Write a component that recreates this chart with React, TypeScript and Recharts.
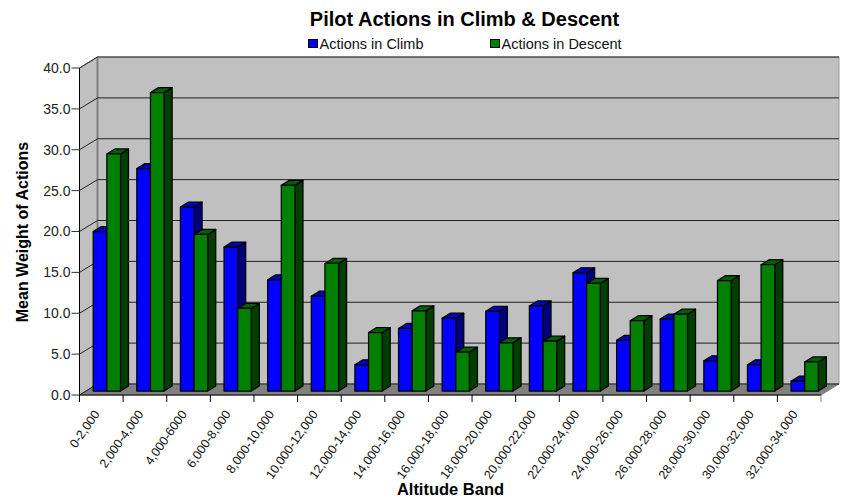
import { Bar, BarChart, CartesianGrid, Legend, XAxis, YAxis } from "recharts";

const altitudeBands = [
  "0-2,000", "2,000-4,000", "4,000-6000", "6,000-8,000", "8,000-10,000", "10,000-12,000",
  "12,000-14,000", "14,000-16,000", "16,000-18,000", "18,000-20,000", "20,000-22,000",
  "22,000-24,000", "24,000-26,000", "26,000-28,000", "28,000-30,000", "30,000-32,000", "32,000-34,000",
];
const climbActions = [19.5, 27.2, 22.5, 17.6, 13.6, 11.6, 3.2, 7.65, 8.9, 9.75, 10.4, 14.45, 6.2, 8.8, 3.7, 3.2, 1.2];
const descentActions = [29.0, 36.5, 19.15, 10.1, 25.15, 15.6, 7.15, 9.8, 4.75, 5.9, 6.1, 13.15, 8.6, 9.4, 13.5, 15.45, 3.55];
const weightTicks = [0, 5, 10, 15, 20, 25, 30, 35, 40];

const chartData = altitudeBands.map((band, i) => ({
  band,
  climb: climbActions[i],
  descent: descentActions[i],
}));

const FONT = '"Liberation Sans", Arial, sans-serif';

// plot rectangle of the front face, in svg coordinates
const LEFT = 79.5;
const RIGHT = 821;
const TOP = 68;
const BOTTOM = 395;
const BAND = (RIGHT - LEFT) / altitudeBands.length;

// how far the back wall sits behind the front plane
const WALL_DX = 18;
const WALL_DY = -11;
// bars stand part way back on the floor, and have their own depth
const BAR_DX = 5.7;
const BAR_DY = -4;
const SIDE_DX = 8;
const SIDE_DY = -5;

const BLUE = { face: "#0000ff", top: "#0000c0", side: "#00007f" };
const GREEN = { face: "#007f00", top: "#006000", side: "#003f00" };

// walls and floor sit in their own svg under the chart so the grid lands on top of them
function Walls() {
  const backLeft = LEFT + WALL_DX;
  const backRight = RIGHT + WALL_DX;
  const backTop = TOP + WALL_DY;
  const backBottom = BOTTOM + WALL_DY;
  return (
    <svg width={845} height={499} style={{ position: "absolute", left: 0, top: 0 }}>
      <rect x={backLeft} y={backTop} width={backRight - backLeft} height={backBottom - backTop} fill="#c0c0c0" stroke="#9a9a9a" />
      <polygon points={`${LEFT},${TOP} ${backLeft},${backTop} ${backLeft},${backBottom} ${LEFT},${BOTTOM}`} fill="#c0c0c0" stroke="#808080" />
      <polygon points={`${LEFT},${BOTTOM} ${backLeft},${backBottom} ${backRight},${backBottom} ${RIGHT},${BOTTOM}`} fill="#808080" stroke="#808080" />
      <line x1={backLeft} y1={backTop} x2={backLeft} y2={backBottom} stroke="#808080" strokeWidth={2} />
    </svg>
  );
}

// grid line running back along the side wall and then across the back wall
function WallGridLine(props: any) {
  const { x1, x2, y1 } = props;
  const points = `${x1},${y1} ${x1 + WALL_DX},${y1 + WALL_DY} ${x2 + WALL_DX},${y1 + WALL_DY}`;
  return <polyline points={points} fill="none" stroke="#222" strokeWidth={1} />;
}

function Bar3D({ x, y, width, height, colors }: any) {
  const l = x + BAR_DX;
  const r = l + width;
  const t = y + BAR_DY;
  const b = t + height;
  return (
    <g stroke="#000" strokeWidth={1.25} strokeLinejoin="round">
      <polygon points={`${r},${t} ${r + SIDE_DX},${t + SIDE_DY} ${r + SIDE_DX},${b + SIDE_DY} ${r},${b}`} fill={colors.side} />
      <polygon points={`${l},${t} ${l + SIDE_DX},${t + SIDE_DY} ${r + SIDE_DX},${t + SIDE_DY} ${r},${t}`} fill={colors.top} />
      <rect x={l} y={t} width={width} height={height} fill={colors.face} />
    </g>
  );
}

function BandTick({ x, y, index, payload }: any) {
  const isLast = index === altitudeBands.length - 1;
  const labelX = x - 1;
  const labelY = y + 5;
  return (
    <g>
      <line x1={x - BAND / 2} y1={BOTTOM} x2={x - BAND / 2} y2={BOTTOM + 7} stroke="#000" />
      {isLast && <line x1={x + BAND / 2} y1={BOTTOM} x2={x + BAND / 2} y2={BOTTOM + 7} stroke="#808080" />}
      <text
        x={labelX}
        y={labelY}
        textAnchor="end"
        fontFamily={FONT}
        fontSize={12.5}
        fill="#111"
        transform={`rotate(-55 ${labelX} ${labelY})`}
      >
        {payload.value}
      </text>
    </g>
  );
}

const legendSpots = [
  { swatch: 307.5, label: 319.5 },
  { swatch: 489.5, label: 501.5 },
];

function ChartLegend({ payload }: any) {
  return (
    <div>
      {(payload ?? []).map((entry: any, i: number) => (
        <div key={entry.value}>
          <span
            style={{
              position: "absolute",
              left: legendSpots[i].swatch,
              top: 39,
              width: 8,
              height: 7,
              background: entry.color,
              border: "1px solid #000",
            }}
          />
          <span
            style={{
              position: "absolute",
              left: legendSpots[i].label,
              top: 36,
              fontFamily: FONT,
              fontSize: 14.5,
              lineHeight: "16px",
              color: "#111",
              whiteSpace: "nowrap",
            }}
          >
            {entry.value}
          </span>
        </div>
      ))}
    </div>
  );
}

export default function App() {
  return (
    <div style={{ position: "absolute", left: 0, top: 0, width: 845, height: 499 }}>
      <Walls />
      <BarChart
        width={845}
        height={499}
        data={chartData}
        margin={{ top: TOP, right: 845 - RIGHT, bottom: 4, left: 9.5 }}
        barSize={13.65}
        barGap={0}
      >
        <CartesianGrid horizontal={(p: any) => <WallGridLine key={p.key} {...p} />} vertical={false} />
        <XAxis
          dataKey="band"
          interval={0}
          height={100}
          tickLine={false}
          tickMargin={0}
          tickSize={14}
          axisLine={{ stroke: "#000" }}
          tick={(p: any) => <BandTick {...p} />}
        />
        <YAxis
          width={70}
          domain={[0, 40]}
          ticks={weightTicks}
          tickFormatter={(v: number) => v.toFixed(1)}
          tickSize={8}
          tickMargin={1}
          tickLine={{ stroke: "#333" }}
          axisLine={{ stroke: "#000" }}
          tick={{ fontFamily: FONT, fontSize: 14, fill: "#222" }}
        />
        <Legend content={(p: any) => <ChartLegend {...p} />} wrapperStyle={{ left: 0, top: 0, width: 845 }} verticalAlign="top" />
        <Bar dataKey="climb" name="Actions in Climb" fill={BLUE.face} isAnimationActive={false} shape={(p: any) => <Bar3D {...p} colors={BLUE} />} />
        <Bar dataKey="descent" name="Actions in Descent" fill={GREEN.face} isAnimationActive={false} shape={(p: any) => <Bar3D {...p} colors={GREEN} />} />
        <text x={464.5} y={26} textAnchor="middle" fontFamily={FONT} fontSize={20} fontWeight="bold" fill="#000">
          Pilot Actions in Climb &amp; Descent
        </text>
        <text x={450.5} y={495} textAnchor="middle" fontFamily={FONT} fontSize={16.5} fontWeight="bold" fill="#000">
          Altitude Band
        </text>
        <text x={28} y={232} textAnchor="middle" fontFamily={FONT} fontSize={16} fontWeight="bold" fill="#000" transform="rotate(-90 28 232)">
          Mean Weight of Actions
        </text>
      </BarChart>
    </div>
  );
}
